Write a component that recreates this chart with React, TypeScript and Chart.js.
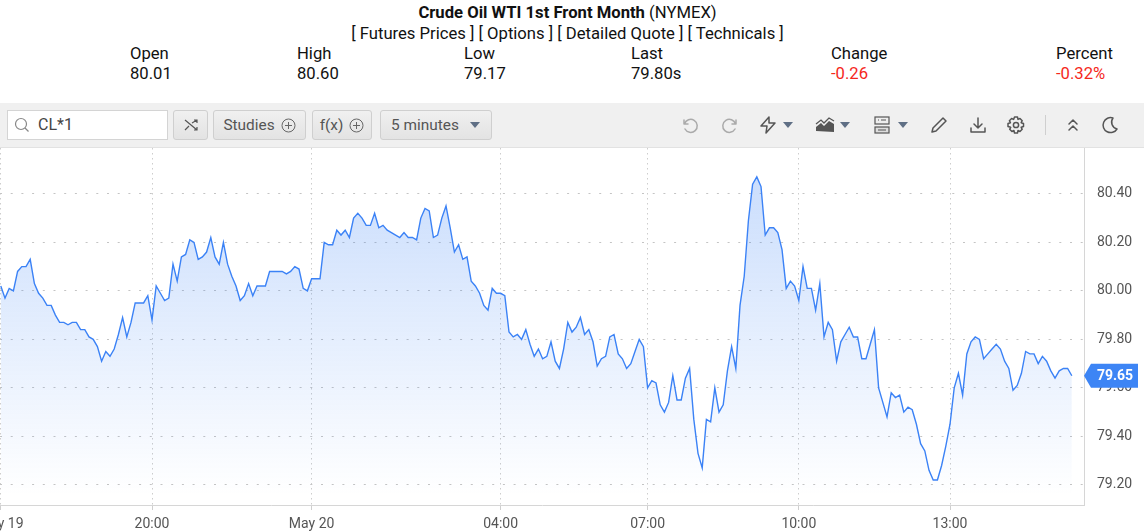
import React, { useEffect, useRef } from "react";
import { Chart, registerables } from "chart.js";

Chart.register(...registerables);

const prices = [
  80.02,79.97,80.01,80.00,80.08,80.10,80.10,80.13,80.03,79.99,79.97,79.94,79.94,79.90,79.87,79.87,79.86,79.87,79.87,79.84,
  79.84,79.81,79.80,79.77,79.71,79.75,79.73,79.76,79.82,79.89,79.81,79.87,79.95,79.95,79.95,79.98,79.88,80.02,79.99,79.96,
  79.97,80.11,80.04,80.14,80.15,80.21,80.20,80.13,80.14,80.16,80.22,80.14,80.11,80.20,80.11,80.06,80.02,79.96,79.98,80.03,
  79.98,80.02,80.02,80.02,80.08,80.08,80.08,80.08,80.07,80.08,80.10,80.09,80.01,80.00,80.05,80.05,80.05,80.20,80.19,80.19,
  80.25,80.23,80.25,80.22,80.30,80.32,80.30,80.27,80.27,80.32,80.26,80.27,80.25,80.24,80.23,80.22,80.24,80.22,80.22,80.21,
  80.30,80.34,80.33,80.22,80.23,80.30,80.35,80.26,80.16,80.19,80.13,80.14,80.04,80.02,79.99,79.94,79.92,80.01,79.99,79.99,
  79.98,79.83,79.81,79.82,79.80,79.84,79.78,79.73,79.76,79.72,79.73,79.79,79.71,79.68,79.76,79.87,79.83,79.85,79.89,79.82,
  79.84,79.79,79.69,79.72,79.73,79.81,79.82,79.74,79.72,79.68,79.70,79.75,79.80,79.77,79.60,79.63,79.62,79.53,79.50,79.54,
  79.65,79.55,79.55,79.64,79.68,79.47,79.33,79.27,79.47,79.46,79.60,79.50,79.53,79.67,79.77,79.68,79.94,80.06,80.29,80.44,
  80.47,80.43,80.23,80.26,80.26,80.24,80.17,80.01,80.04,80.02,79.96,80.10,80.01,80.01,79.92,80.03,79.81,79.87,79.84,79.71,
  79.79,79.82,79.85,79.81,79.81,79.72,79.72,79.78,79.84,79.60,79.54,79.48,79.58,79.56,79.57,79.50,79.52,79.51,79.45,79.37,
  79.34,79.26,79.22,79.22,79.28,79.36,79.45,79.60,79.66,79.57,79.74,79.79,79.81,79.80,79.72,79.74,79.76,79.78,79.76,79.71,
  79.68,79.59,79.61,79.66,79.75,79.74,79.74,79.70,79.73,79.71,79.67,79.64,79.67,79.68,79.68,79.65,
];
const xTickIndexes = [0, 36, 74, 119, 154, 190, 226];
const xTickLabels = ["May 19", "20:00", "May 20", "04:00", "07:00", "10:00", "13:00"];
const yTickValues = [79.2, 79.4, 79.6, 79.8, 80.0, 80.2, 80.4];
const lastPrice = 79.65;
const quoteLabels = ["Open", "High", "Low", "Last", "Change", "Percent"];
const quoteValues = ["80.01", "80.60", "79.17", "79.80s", "-0.26", "-0.32%"];
const quoteLefts = [130, 297, 464, 631, 831, 1056];

const FONT = "Roboto, sans-serif";
const BLUE = "#3b82f6";

const lastTag = {
  id: "lastTag",
  afterDraw(chart: any) {
    const { ctx } = chart;
    const y = chart.scales.y.getPixelForValue(lastPrice);
    const x0 = chart.chartArea.right;
    ctx.save();
    ctx.fillStyle = "#3d85f5";
    ctx.beginPath();
    ctx.moveTo(x0, y);
    ctx.lineTo(x0 + 7, y - 12);
    ctx.lineTo(x0 + 54, y - 12);
    ctx.lineTo(x0 + 54, y + 12);
    ctx.lineTo(x0 + 7, y + 12);
    ctx.closePath();
    ctx.fill();
    ctx.fillStyle = "#fff";
    ctx.font = `bold 14px ${FONT}`;
    ctx.textAlign = "center";
    ctx.textBaseline = "middle";
    ctx.fillText(lastPrice.toFixed(2), x0 + 31, y + 0.5);
    ctx.restore();
  },
};

const abs = (left: number, top: number, extra: any = {}) => ({ position: "absolute", left, top, ...extra });

function Btn({ left, width, children }: any) {
  return (
    <div
      style={abs(left, 110, {
        width,
        height: 30,
        boxSizing: "border-box",
        border: "1px solid #cfcfcf",
        borderRadius: 3,
        background: "linear-gradient(#f0f0f0,#e3e3e3)",
        color: "#555",
        fontSize: 15.4,
        lineHeight: "28px",
        display: "flex",
        alignItems: "center",
        justifyContent: "center",
        gap: 6,
      })}
    >
      {children}
    </div>
  );
}

const Plus = () => (
  <svg width="15" height="15" viewBox="0 0 15 15" fill="none" stroke="#666" strokeWidth="1">
    <circle cx="7.5" cy="7.5" r="6.5" />
    <path d="M7.5 4v7M4 7.5h7" />
  </svg>
);
const Caret = ({ left }: any) => (
  <svg style={abs(left, 121) as any} width="12" height="8" viewBox="0 0 12 8">
    <path d="M1 1h10L6 7z" fill="#5f6f85" />
  </svg>
);
const Icon = ({ left, color = "#555", w = 20, children }: any) => (
  <svg style={abs(left, 115) as any} width={w} height="20" viewBox="0 0 20 20" fill="none" stroke={color} strokeWidth="1.5" strokeLinejoin="round" strokeLinecap="round">
    {children}
  </svg>
);

export default function App() {
  const ref = useRef<HTMLCanvasElement>(null);
  useEffect(() => {
    const chart = new Chart(ref.current as any, {
      type: "line",
      data: {
        datasets: [
          {
            data: prices.map((y, x) => ({ x, y })),
            borderColor: BLUE,
            borderWidth: 1.4,
            pointRadius: 0,
            tension: 0,
            fill: "start",
            backgroundColor: (c: any) => {
              const area = c.chart.chartArea;
              if (!area) return "rgba(59,130,246,0.2)";
              const g = c.chart.ctx.createLinearGradient(0, 25, 0, area.bottom - 10);
              g.addColorStop(0, "rgba(50,125,245,0.26)");
              g.addColorStop(1, "rgba(50,125,245,0)");
              return g;
            },
          },
        ],
      },
      options: {
        responsive: false,
        animation: false,
        parsing: false,
        normalized: true,
        layout: { padding: 0 },
        plugins: { legend: { display: false }, tooltip: { enabled: false }, title: { display: false } },
        scales: {
          x: {
            type: "linear",
            min: -0.19,
            max: 257.9,
            afterBuildTicks: (s: any) => {
              s.ticks = xTickIndexes.map((value) => ({ value }));
            },
            afterFit: (s: any) => {
              s.height = 27;
              s.paddingLeft = 0;
              s.paddingRight = 0;
            },
            ticks: {
              autoSkip: false,
              maxRotation: 0,
              color: "#555",
              padding: 6,
              font: { family: FONT, size: 14 },
              callback: (v: any) => xTickLabels[xTickIndexes.indexOf(v)],
            },
            grid: { color: "#cdcdcd", tickColor: "#cfcfcf", tickLength: 5, lineWidth: 1 },
            border: { color: "#d6d6d6", dash: [1.5, 3.5] },
          },
          y: {
            position: "right",
            min: 79.117,
            max: 80.589,
            afterBuildTicks: (s: any) => {
              s.ticks = yTickValues.map((value) => ({ value }));
            },
            afterFit: (s: any) => {
              s.width = 60;
              s.paddingTop = 0;
              s.paddingBottom = 0;
            },
            ticks: {
              color: "#555",
              padding: 13,
              font: { family: FONT, size: 14 },
              callback: (v: any) => Number(v).toFixed(2),
            },
            grid: { color: "#c4c4c4", drawTicks: false, lineWidth: 1 },
            border: { color: "#d6d6d6", dash: [2, 8.7] },
          },
        },
      },
      plugins: [lastTag],
    } as any);
    return () => chart.destroy();
  }, []);

  return (
    <div style={abs(0, 0, { width: 1144, height: 532, overflow: "hidden", background: "#fff", fontFamily: FONT, color: "#111", fontSize: 16.65 }) as any}>
      <div style={abs(0, 3, { width: 1135, textAlign: "center", lineHeight: "20px" }) as any}>
        <b style={{ fontWeight: 700 }}>Crude Oil WTI 1st Front Month</b> (NYMEX)
      </div>
      <div style={abs(0, 24, { width: 1135, textAlign: "center", lineHeight: "20px" }) as any}>
        [ Futures Prices ] [ Options ] [ Detailed Quote ] [ Technicals ]
      </div>
      {quoteLabels.map((label, i) => (
        <React.Fragment key={label}>
          <div style={abs(quoteLefts[i], 44, { lineHeight: "20px" }) as any}>{label}</div>
          <div style={abs(quoteLefts[i], 64, { lineHeight: "20px", color: i >= 4 ? "#f5281c" : "#111" }) as any}>{quoteValues[i]}</div>
        </React.Fragment>
      ))}

      <div style={abs(0, 103, { width: 1144, height: 45, background: "#f0f0f0", borderBottom: "1px solid #e2e2e2", boxSizing: "border-box" }) as any} />
      <div style={abs(7, 110, { width: 161, height: 30, boxSizing: "border-box", background: "#fff", border: "1px solid #d4d4d4", color: "#444", fontSize: 16, lineHeight: "28px", paddingLeft: 30 }) as any}>
        CL*1
      </div>
      <svg style={abs(14, 117) as any} width="16" height="16" viewBox="0 0 16 16" fill="none" stroke="#888" strokeWidth="1.2">
        <circle cx="7" cy="7" r="5.5" />
        <path d="M11 11l3.5 3.5" />
      </svg>
      <Btn left={173} width={35}>
        <svg width="16" height="16" viewBox="0 0 16 16" fill="none" stroke="#555" strokeWidth="1.2">
          <path d="M2 3l12 10M2 13l4-4M9 6l5-3M11 3h3v3M11 13h3v-3" />
        </svg>
      </Btn>
      <Btn left={213} width={93}>Studies <Plus /></Btn>
      <Btn left={312} width={60}>f(x) <Plus /></Btn>
      <Btn left={380} width={112}>
        5 minutes
        <svg width="12" height="8" viewBox="0 0 12 8" style={{ marginLeft: 4 }}>
          <path d="M1 1h10L6 7z" fill="#5f6f85" />
        </svg>
      </Btn>

      <Icon left={680} color="#aaa"><path d="M4 5v4h4M4.5 9A6.5 6.5 0 1 1 5 14" /></Icon>
      <Icon left={720} color="#aaa"><path d="M16 5v4h-4M15.5 9A6.5 6.5 0 1 0 15 14" /></Icon>
      <Icon left={758}><path d="M11 2L3 11h6l-1 7 9-10h-6z" /></Icon>
      <Caret left={782} />
      <svg style={abs(815, 116) as any} width="20" height="18" viewBox="0 0 20 18">
        <path d="M1 15V11l5-4 3 3 5-5 5 3v8z" fill="#555" />
        <path d="M1 8l5-4 3 3 5-5 5 3" fill="none" stroke="#555" strokeWidth="1.3" />
      </svg>
      <Caret left={839} />
      <svg style={abs(873, 115) as any} width="18" height="20" viewBox="0 0 18 20" fill="none" stroke="#555" strokeWidth="1.2">
        <rect x="2" y="2" width="14" height="7" fill="#eee" />
        <rect x="2" y="12" width="14" height="6" fill="#ddd" />
        <path d="M5 5h1M8 5h5M5 15h8" />
      </svg>
      <Caret left={897} />
      <Icon left={929}><path d="M3 17l1-4L14 3l3 3L7 16z" /></Icon>
      <Icon left={968}><path d="M10 3v10M6 9l4 4 4-4M3 13v4h14v-4" /></Icon>
      <Icon left={1006}>
        <circle cx="10" cy="10" r="2.6" />
        <path d="M8.5 2h3l.5 2.4 2-.9 2.2 2.2-1 2 2.3.8v3l-2.3.8 1 2-2.2 2.2-2-1-.5 2.5h-3l-.6-2.5-2 1-2.2-2.2 1-2L2 11.500v-3l2.400-.8-1-2 2.200-2.200 2 .9z" />
      </Icon>
      <div style={abs(1045, 115, { width: 1, height: 20, background: "#cfcfcf" }) as any} />
      <Icon left={1063}><path d="M6 9l4-4 4 4M6 15l4-4 4 4" /></Icon>
      <Icon left={1100}><path d="M13 3a7.500 7.500 0 1 0 4 11A7 7 0 0 1 13 3z" /></Icon>

      <canvas ref={ref} width={1144} height={384} style={abs(0, 148, { display: "block", width: 1144, height: 384 }) as any} />
    </div>
  );
}
